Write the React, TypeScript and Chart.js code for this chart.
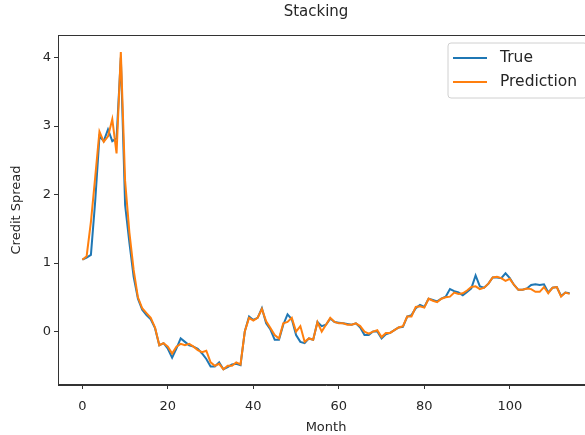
import React, { useEffect, useRef } from "react";
import { Chart, registerables } from "chart.js";

Chart.register(...registerables);

const TITLE = "Stacking";
const X_LABEL = "Month";
const Y_LABEL = "Credit Spread";
const X_TICKS = [0, 20, 40, 60, 80, 100];
const Y_TICKS = [0, 1, 2, 3, 4];
const SERIES_NAMES = ["True", "Prediction"];

const trueValues = [
  1.05, 1.08, 1.12, 1.9, 2.85, 2.78, 2.95, 2.78, 2.82, 4.0,
  1.85, 1.3, 0.8, 0.48, 0.32, 0.24, 0.18, 0.05, -0.2, -0.17,
  -0.25, -0.38, -0.25, -0.1, -0.15, -0.2, -0.22, -0.25, -0.32, -0.4,
  -0.51, -0.51, -0.45, -0.55, -0.52, -0.48, -0.47, -0.49, 0.0, 0.22,
  0.17, 0.2, 0.34, 0.12, 0.03, -0.12, -0.12, 0.1, 0.25, 0.18,
  -0.05, -0.15, -0.17, -0.1, -0.12, 0.14, 0.08, 0.1, 0.19, 0.14,
  0.13, 0.12, 0.11, 0.1, 0.12, 0.06, -0.05, -0.05, 0.0, 0.0,
  -0.1, -0.04, -0.02, 0.02, 0.06, 0.07, 0.22, 0.24, 0.34, 0.39,
  0.36, 0.48, 0.46, 0.44, 0.48, 0.51, 0.62, 0.59, 0.57, 0.53,
  0.58, 0.63, 0.82, 0.66, 0.64, 0.7, 0.79, 0.79, 0.78, 0.85,
  0.78, 0.68, 0.61, 0.61, 0.63, 0.68, 0.69, 0.68, 0.69, 0.57,
  0.64, 0.65, 0.52, 0.57, 0.56,
];

const predValues = [
  1.05, 1.1, 1.6, 2.25, 2.92, 2.77, 2.85, 3.1, 2.6, 4.08,
  2.2, 1.45, 0.9, 0.5, 0.34, 0.27, 0.2, 0.06, -0.2, -0.17,
  -0.22, -0.32, -0.22, -0.18, -0.2, -0.18, -0.22, -0.27, -0.3, -0.28,
  -0.45, -0.5, -0.47, -0.55, -0.5, -0.5, -0.45, -0.48, 0.0, 0.2,
  0.16, 0.2, 0.33, 0.15, 0.05, -0.05, -0.1, 0.12, 0.14, 0.2,
  0.0, 0.08, -0.15, -0.1, -0.12, 0.14, 0.0, 0.1, 0.2, 0.14,
  0.12, 0.12, 0.1, 0.1, 0.12, 0.08, 0.0, -0.03, 0.0, 0.02,
  -0.08, -0.02, -0.02, 0.02, 0.06, 0.08, 0.22, 0.22, 0.36, 0.37,
  0.35, 0.48, 0.45, 0.43, 0.48, 0.5, 0.51, 0.57, 0.55, 0.56,
  0.6, 0.65, 0.66, 0.62, 0.64, 0.7, 0.79, 0.8, 0.78, 0.74,
  0.77, 0.68, 0.61, 0.61, 0.63, 0.62, 0.58, 0.58, 0.65, 0.56,
  0.64, 0.65, 0.51, 0.57, 0.55,
];

const COLORS = ["#1f77b4", "#ff7f0e"];
const FONT = "'DejaVu Sans', sans-serif";
const TEXT = "#262626";
const FS = 13;
const LEGEND_FS = 15.5;

const framePlugin = {
  id: "frame",
  afterDraw(chart: any) {
    const { ctx, chartArea: a } = chart;
    ctx.save();
    ctx.strokeStyle = "#333";
    ctx.lineWidth = 1;
    ctx.strokeRect(a.left + 0.5, a.top + 0.5, a.right - a.left - 1, a.bottom - a.top - 1);
    ctx.fillStyle = TEXT;
    ctx.font = `15px ${FONT}`;
    ctx.textAlign = "center";
    ctx.textBaseline = "middle";
    ctx.fillText(TITLE, (a.left + a.right) / 2 - 10, a.top - 23);
    ctx.restore();
  },
};

const legendPlugin = {
  id: "mplLegend",
  afterDraw(chart: any) {
    const { ctx, chartArea: a } = chart;
    const w = 139;
    const h = 55;
    const right = a.right - 7;
    const left = right - w;
    const top = a.top + 8;
    ctx.save();
    ctx.beginPath();
    const r = 3;
    ctx.moveTo(left + r, top);
    ctx.lineTo(right - r, top);
    ctx.quadraticCurveTo(right, top, right, top + r);
    ctx.lineTo(right, top + h - r);
    ctx.quadraticCurveTo(right, top + h, right - r, top + h);
    ctx.lineTo(left + r, top + h);
    ctx.quadraticCurveTo(left, top + h, left, top + h - r);
    ctx.lineTo(left, top + r);
    ctx.quadraticCurveTo(left, top, left + r, top);
    ctx.closePath();
    ctx.fillStyle = "rgba(255,255,255,0.8)";
    ctx.fill();
    ctx.strokeStyle = "#d0d0d0";
    ctx.lineWidth = 1;
    ctx.stroke();
    ctx.font = `${LEGEND_FS}px ${FONT}`;
    ctx.textBaseline = "middle";
    SERIES_NAMES.forEach((name, i) => {
      const y = top + 15 + i * 24;
      ctx.strokeStyle = COLORS[i];
      ctx.lineWidth = 2;
      ctx.beginPath();
      ctx.moveTo(left + 5, y);
      ctx.lineTo(left + 39, y);
      ctx.stroke();
      ctx.fillStyle = TEXT;
      ctx.fillText(name, left + 52, y);
    });
    ctx.restore();
  },
};

export default function App() {
  const ref = useRef<HTMLCanvasElement>(null);

  useEffect(() => {
    if (!ref.current) return;
    const chart = new Chart(ref.current, {
      type: "line",
      data: {
        datasets: [
          {
            label: SERIES_NAMES[0],
            data: trueValues.map((v, i) => ({ x: i, y: v })),
            borderColor: COLORS[0],
            backgroundColor: COLORS[0],
            borderWidth: 2,
            pointRadius: 0,
            tension: 0,
            order: 2,
          },
          {
            label: SERIES_NAMES[1],
            data: predValues.map((v, i) => ({ x: i, y: v })),
            borderColor: COLORS[1],
            backgroundColor: COLORS[1],
            borderWidth: 2,
            pointRadius: 0,
            tension: 0,
            order: 1,
          },
        ],
      },
      options: {
        animation: false,
        responsive: false,
        devicePixelRatio: 1,
        layout: { padding: { top: 35, right: 26, bottom: 0, left: 0 } },
        plugins: {
          legend: { display: false },
          tooltip: { enabled: false },
          title: { display: false },
        },
        scales: {
          x: {
            type: "linear",
            min: -5.7,
            max: 119.7,
            afterBuildTicks: (s: any) => {
              s.ticks = X_TICKS.map((v) => ({ value: v }));
            },
            afterFit: (s: any) => {
              s.height = 50;
            },
            grid: {
              display: true,
              drawOnChartArea: false,
              drawTicks: true,
              tickLength: 4,
              color: "#333",
            },
            border: { display: true, color: "#333", width: 1 },
            ticks: {
              color: TEXT,
              font: { family: FONT, size: FS },
              padding: 10,
              maxRotation: 0,
              autoSkip: false,
            },
            title: {
              display: true,
              text: X_LABEL,
              color: TEXT,
              font: { family: FONT, size: FS },
              padding: { top: 0, bottom: 0 },
            },
          },
          y: {
            type: "linear",
            min: -0.78,
            max: 4.33,
            afterBuildTicks: (s: any) => {
              s.ticks = Y_TICKS.map((v) => ({ value: v }));
            },
            afterFit: (s: any) => {
              s.width = 58;
            },
            grid: {
              display: true,
              drawOnChartArea: false,
              drawTicks: true,
              tickLength: 4,
              color: "#333",
            },
            border: { display: true, color: "#333", width: 1 },
            ticks: {
              color: TEXT,
              font: { family: FONT, size: FS },
              padding: 3,
            },
            title: {
              display: true,
              text: Y_LABEL,
              color: TEXT,
              font: { family: FONT, size: FS },
              padding: { top: 9, bottom: 0 },
            },
          },
        },
      },
      plugins: [framePlugin, legendPlugin],
    });
    return () => chart.destroy();
  }, []);

  return (
    <div
      style={{
        position: "fixed",
        left: 0,
        top: 0,
        width: 585,
        height: 435,
        overflow: "hidden",
        background: "#fff",
      }}
    >
      <canvas ref={ref} width={620} height={435} style={{ display: "block" }} />
    </div>
  );
}
